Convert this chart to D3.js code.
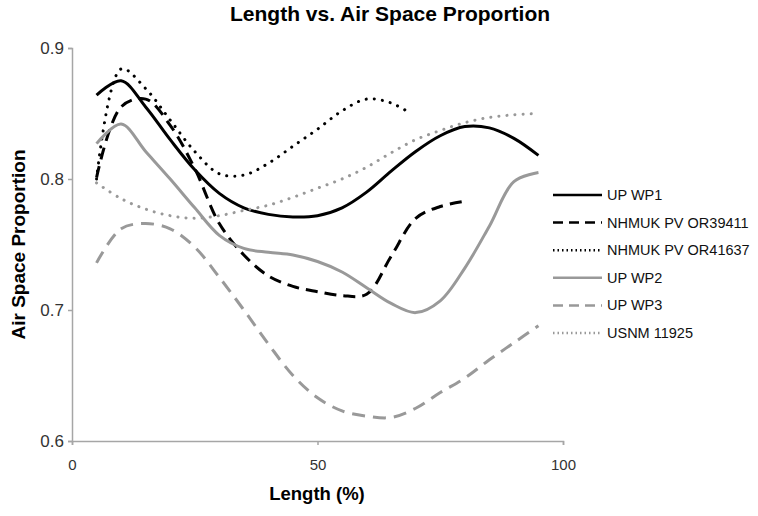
<!DOCTYPE html>
<html>
<head>
<meta charset="utf-8">
<script src="https://cdn.jsdelivr.net/npm/d3@7/dist/d3.min.js"></script>
<style>
  html, body { margin: 0; padding: 0; background: #fff; }
  svg { display: block; font-family: "Liberation Sans", Arial, sans-serif; }
</style>
</head>
<body>
<svg id="chart" width="758" height="516"></svg>
<script>
// ---- data ----
const xTicks = [0, 50, 100];
const yTicks = [0.6, 0.7, 0.8, 0.9];

const upWP1X = [5, 10, 15, 20, 25, 30, 35, 40, 45, 50, 55, 60, 65, 70, 75, 80, 85, 90, 95];
const upWP1Y = [0.864, 0.875, 0.855, 0.830, 0.807, 0.789, 0.778, 0.773, 0.771, 0.772, 0.778, 0.790, 0.806, 0.821, 0.833, 0.840, 0.839, 0.831, 0.818];

const or39411X = [5, 10, 15, 20, 25, 30, 35, 40, 45, 50, 55, 60, 65, 70, 75, 80];
const or39411Y = [0.801, 0.855, 0.861, 0.841, 0.808, 0.766, 0.742, 0.726, 0.718, 0.714, 0.711, 0.712, 0.741, 0.770, 0.779, 0.783];

const or41637X = [5, 10, 15, 20, 25, 30, 35, 40, 45, 50, 55, 60, 65, 69];
const or41637Y = [0.800, 0.884, 0.869, 0.845, 0.821, 0.804, 0.803, 0.812, 0.825, 0.838, 0.852, 0.861, 0.858, 0.850];

const upWP2X = [5, 10, 15, 20, 25, 30, 35, 40, 45, 50, 55, 60, 65, 70, 75, 80, 85, 90, 95];
const upWP2Y = [0.827, 0.842, 0.821, 0.800, 0.778, 0.757, 0.747, 0.744, 0.742, 0.737, 0.729, 0.717, 0.705, 0.698, 0.707, 0.732, 0.764, 0.798, 0.805];

const upWP3X = [5, 10, 15, 20, 25, 30, 35, 40, 45, 50, 55, 60, 65, 70, 75, 80, 85, 90, 95];
const upWP3Y = [0.736, 0.762, 0.766, 0.762, 0.748, 0.725, 0.700, 0.674, 0.650, 0.633, 0.623, 0.619, 0.618, 0.625, 0.637, 0.648, 0.662, 0.675, 0.688];

const usnmX = [5, 10, 15, 20, 25, 30, 35, 40, 45, 50, 55, 60, 65, 70, 75, 80, 85, 90, 95];
const usnmY = [0.797, 0.785, 0.777, 0.772, 0.770, 0.772, 0.776, 0.780, 0.786, 0.793, 0.800, 0.809, 0.820, 0.830, 0.837, 0.843, 0.847, 0.849, 0.850];

const seriesNames = ["UP WP1", "NHMUK PV OR39411", "NHMUK PV OR41637", "UP WP2", "UP WP3", "USNM 11925"];

// ---- build ----
const BLACK = "#000", GRAY = "#999";
const styles = [
  { color: BLACK, dash: null, cap: "butt" },
  { color: BLACK, dash: "12,7", cap: "butt" },
  { color: BLACK, dash: "0.1,8", cap: "round" },
  { color: GRAY, dash: null, cap: "butt" },
  { color: GRAY, dash: "13,8", cap: "butt" },
  { color: GRAY, dash: "0.1,8", cap: "round" }
];
const legendDash = [null, "10,6", "1.5,3", null, "10,6", "1.5,3"];

const xs = [upWP1X, or39411X, or41637X, upWP2X, upWP3X, usnmX];
const ys = [upWP1Y, or39411Y, or41637Y, upWP2Y, upWP3Y, usnmY];
const series = seriesNames.map((name, i) => ({
  name, style: styles[i], legendDash: legendDash[i],
  values: xs[i].map((x, j) => ({ x, y: ys[i][j] }))
}));

const svg = d3.select("#chart");
const x = d3.scaleLinear().domain([0, 100]).range([72, 563]);
const y = d3.scaleLinear().domain([0.6, 0.9]).range([441, 48]);

const axisColor = "#a6a6a6";
const textColor = "#333";

// Y axis
const yAxis = svg.append("g").attr("transform", `translate(${x(0)},0)`)
  .call(d3.axisLeft(y).tickValues(yTicks).tickFormat(d3.format(".1f")).tickSize(4).tickPadding(4));
yAxis.selectAll(".tick text").style("font-size", "17px");
// X axis
const xAxis = svg.append("g").attr("transform", `translate(0,${y(0.6)})`)
  .call(d3.axisBottom(x).tickValues(xTicks).tickFormat(d3.format("d")).tickSize(4).tickPadding(14));
xAxis.selectAll(".tick text").style("font-size", "15px");
[yAxis, xAxis].forEach(g => {
  g.select(".domain").attr("stroke", axisColor).attr("stroke-width", 1.5);
  g.selectAll(".tick line").attr("stroke", axisColor).attr("stroke-width", 1.5);
  g.selectAll(".tick text").attr("fill", textColor)
    .style("font-family", "'Liberation Sans', Arial, sans-serif");
});

// lines
const line = d3.line().x(d => x(d.x)).y(d => y(d.y)).curve(d3.curveCatmullRom.alpha(0.5));
svg.append("g").selectAll("path").data(series).join("path")
  .attr("d", d => line(d.values))
  .attr("fill", "none")
  .attr("stroke", d => d.style.color)
  .attr("stroke-width", 3)
  .attr("stroke-linecap", d => d.style.cap)
  .attr("stroke-dasharray", d => d.style.dash);

// title
svg.append("text").attr("x", 230).attr("y", 21).attr("text-anchor", "start")
  .style("font-size", "21px").style("font-weight", "bold").attr("fill", "#000")
  .text("Length vs. Air Space Proportion");

// axis titles
svg.append("text").attr("x", 317).attr("y", 500).attr("text-anchor", "middle")
  .style("font-size", "18.5px").style("font-weight", "bold").attr("fill", "#000")
  .text("Length (%)");
svg.append("text").attr("transform", `translate(25,${(y(0.6) + y(0.9)) / 2}) rotate(-90)`)
  .attr("text-anchor", "middle")
  .style("font-size", "19px").style("font-weight", "bold").attr("fill", "#000")
  .text("Air Space Proportion");

// legend
const legY = d3.scalePoint().domain(seriesNames).range([195, 333]);
const leg = svg.append("g").selectAll("g").data(series).join("g")
  .attr("transform", d => `translate(0,${legY(d.name)})`);
leg.append("line").attr("x1", 553).attr("x2", 602).attr("y1", 0).attr("y2", 0)
  .attr("stroke", d => d.style.color).attr("stroke-width", 2.5)
  .attr("stroke-dasharray", d => d.legendDash);
leg.append("text").attr("x", 607).attr("y", 0).attr("dy", "0.35em")
  .style("font-size", "14.5px").attr("fill", "#111").text(d => d.name);
</script>
</body>
</html>
